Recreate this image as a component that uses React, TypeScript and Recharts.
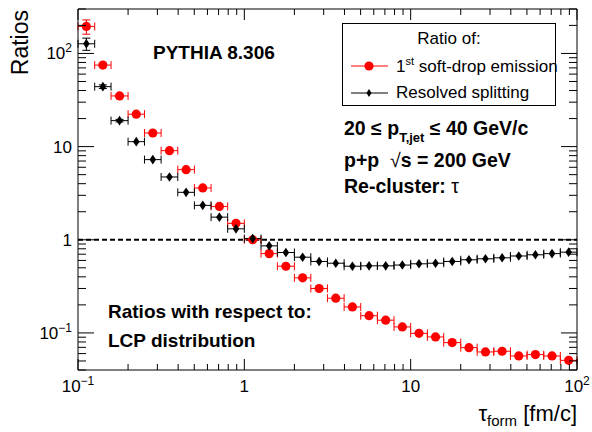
import React from 'react';
import { ScatterChart, Scatter, XAxis, YAxis, ErrorBar, ReferenceLine, Legend } from 'recharts';

// tau_form bins (fm/c), 10 per decade
const binEdges = [
  0.1, 0.126, 0.158, 0.2, 0.251, 0.316, 0.398, 0.501, 0.631, 0.794,
  1, 1.26, 1.58, 2, 2.51, 3.16, 3.98, 5.01, 6.31, 7.94,
  10, 12.6, 15.8, 20, 25.1, 31.6, 39.8, 50.1, 63.1, 79.4, 100,
];

// ratio to LCP distribution
const softDropRatio = [
  195, 75, 35, 22.3, 14, 9.05, 5.66, 3.6, 2.28, 1.5,
  1.0, 0.71, 0.52, 0.39, 0.3, 0.236, 0.19, 0.153, 0.137, 0.116,
  0.099, 0.0906, 0.0787, 0.0695, 0.0625, 0.0636, 0.0566, 0.0585, 0.0566, 0.0508,
];
const resolvedRatio = [
  127, 44, 19, 11.3, 7.25, 4.72, 3.23, 2.34, 1.75, 1.31,
  1.03, 0.86, 0.73, 0.65, 0.585, 0.56, 0.52, 0.525, 0.525, 0.535,
  0.552, 0.56, 0.585, 0.61, 0.625, 0.64, 0.67, 0.69, 0.71, 0.736,
];
// stat. errors (only visible on the first bins)
const softDropErr = [34, 3, 1, 0, 0, 0, 0, 0, 0, 0, 0, 0, 0, 0, 0, 0, 0, 0, 0, 0, 0, 0, 0, 0, 0, 0, 0, 0, 0, 0];
const resolvedErr = [19, 2, 0.6, 0, 0, 0, 0, 0, 0, 0, 0, 0, 0, 0, 0, 0, 0, 0, 0, 0, 0, 0, 0, 0, 0, 0, 0, 0, 0, 0];

const xTicks = [
  0.1, 0.2, 0.3, 0.4, 0.5, 0.6, 0.7, 0.8, 0.9,
  1, 2, 3, 4, 5, 6, 7, 8, 9,
  10, 20, 30, 40, 50, 60, 70, 80, 90, 100,
];
const yTicks = [
  0.04, 0.05, 0.06, 0.07, 0.08, 0.09,
  0.1, 0.2, 0.3, 0.4, 0.5, 0.6, 0.7, 0.8, 0.9,
  1, 2, 3, 4, 5, 6, 7, 8, 9,
  10, 20, 30, 40, 50, 60, 70, 80, 90,
  100, 200, 300,
];
const majorValues = [0.1, 1, 10, 100];
const majorLabels = ['10^−1', '1', '10', '10^2'];

const FONT = '"Liberation Sans", Arial, Helvetica, sans-serif';

const makeSeries = (vals: number[], errs: number[]) =>
  vals.map((v, i) => {
    const lo = binEdges[i];
    const hi = binEdges[i + 1];
    const c = Math.sqrt(lo * hi);
    return { x: c, y: v, ex: [c - lo, hi - c], ey: errs[i] > 0 ? errs[i] : null };
  });

const softDropData = makeSeries(softDropRatio, softDropErr);
const resolvedData = makeSeries(resolvedRatio, resolvedErr);

const PowLabel = ({ v }: { v: number }) => {
  const idx = majorValues.indexOf(v);
  const [base, exp] = majorLabels[idx].split('^');
  return (
    <>
      {base}
      {exp && <tspan dy={-7} fontSize={12}>{exp}</tspan>}
    </>
  );
};

const isMajor = (v: number) => majorValues.includes(v);

const BottomTick = ({ x, y, payload }: any) => {
  const major = isMajor(payload.value);
  return (
    <g>
      <line x1={x} x2={x} y1={y} y2={y - (major ? 11 : 6)} stroke="#000" />
      {major && (
        <text x={x} y={y + 22} textAnchor="middle" fontSize={17} fontFamily={FONT} fill="#000">
          <PowLabel v={payload.value} />
        </text>
      )}
    </g>
  );
};

const TopTick = ({ x, y, payload }: any) => {
  const major = isMajor(payload.value);
  return <line x1={x} x2={x} y1={y} y2={y + (major ? 11 : 6)} stroke="#000" />;
};

const LeftTick = ({ x, y, payload }: any) => {
  const major = isMajor(payload.value);
  return (
    <g>
      <line x1={x} x2={x + (major ? 16 : 8)} y1={y} y2={y} stroke="#000" />
      {major && (
        <text x={x - 6} y={y + 6} textAnchor="end" fontSize={17} fontFamily={FONT} fill="#000">
          <PowLabel v={payload.value} />
        </text>
      )}
    </g>
  );
};

const RightTick = ({ x, y, payload }: any) => {
  const major = isMajor(payload.value);
  return <line x1={x} x2={x - (major ? 16 : 8)} y1={y} y2={y} stroke="#000" />;
};

const RedDot = ({ cx, cy }: any) => <circle cx={cx} cy={cy} r={4.6} fill="#ff0000" />;
const BlackDiamond = ({ cx, cy }: any) => (
  <polygon points={`${cx},${cy - 4.8} ${cx + 3.3},${cy} ${cx},${cy + 4.8} ${cx - 3.3},${cy}`} fill="#000" />
);

const LegendBox = () => (
  <div
    style={{
      width: 212, height: 80, border: '1px solid #000', background: '#fff',
      fontFamily: FONT, fontSize: 17, color: '#000', paddingTop: 1, boxSizing: 'content-box',
    }}
  >
    <div style={{ height: 27, lineHeight: '27px', textAlign: 'center' }}>Ratio of:</div>
    <div style={{ height: 27, display: 'flex', alignItems: 'center', whiteSpace: 'nowrap' }}>
      <svg width={53} height={12} style={{ flexShrink: 0 }}>
        <line x1={8} x2={45} y1={6} y2={6} stroke="#ff0000" />
        <circle cx={26} cy={6} r={4.6} fill="#ff0000" />
      </svg>
      <span>1<sup style={{ fontSize: 11, verticalAlign: 7 }}>st</sup> soft-drop emission</span>
    </div>
    <div style={{ height: 27, display: 'flex', alignItems: 'center', whiteSpace: 'nowrap' }}>
      <svg width={53} height={12} style={{ flexShrink: 0 }}>
        <line x1={8} x2={45} y1={6} y2={6} stroke="#000" />
        <polygon points="26,2 28.5,6 26,10 23.5,6" fill="#000" />
      </svg>
      <span>Resolved splitting</span>
    </div>
  </div>
);

export default function App() {
  return (
    <div style={{ position: 'absolute', left: 0, top: 0, width: 592, height: 432, background: '#fff' }}>
      <ScatterChart width={592} height={432} margin={{ top: 8, right: 14, bottom: 61, left: 77 }}>
        <XAxis
          xAxisId="b" dataKey="x" type="number" scale="log" domain={[0.1, 100]} ticks={xTicks}
          interval={0} allowDataOverflow height={1} tickSize={0} tickMargin={0}
          tick={<BottomTick />} axisLine={{ stroke: '#000' }} tickLine={false}
        />
        <XAxis
          xAxisId="t" orientation="top" dataKey="x" type="number" scale="log" domain={[0.1, 100]} ticks={xTicks}
          interval={0} allowDataOverflow height={1} tickSize={0} tickMargin={0}
          tick={<TopTick />} axisLine={{ stroke: '#000' }} tickLine={false}
        />
        <YAxis
          yAxisId="l" dataKey="y" type="number" scale="log" domain={[0.04, 300]} ticks={yTicks}
          interval={0} allowDataOverflow width={1} tickSize={0} tickMargin={0}
          tick={<LeftTick />} axisLine={{ stroke: '#000' }} tickLine={false}
        />
        <YAxis
          yAxisId="r" orientation="right" dataKey="y" type="number" scale="log" domain={[0.04, 300]} ticks={yTicks}
          interval={0} allowDataOverflow width={1} tickSize={0} tickMargin={0}
          tick={<RightTick />} axisLine={{ stroke: '#000' }} tickLine={false}
        />
        <ReferenceLine xAxisId="b" yAxisId="l" y={1} stroke="#000" strokeWidth={2} strokeDasharray="5 3" />
        <Scatter
          name="1st soft-drop emission" data={softDropData} xAxisId="b" yAxisId="l"
          shape={<RedDot />} isAnimationActive={false}
        >
          <ErrorBar dataKey="ex" direction="x" width={4} stroke="#ff0000" strokeWidth={1} isAnimationActive={false} />
          <ErrorBar dataKey="ey" direction="y" width={4} stroke="#ff0000" strokeWidth={1} isAnimationActive={false} />
        </Scatter>
        <Scatter
          name="Resolved splitting" data={resolvedData} xAxisId="b" yAxisId="l"
          shape={<BlackDiamond />} isAnimationActive={false}
        >
          <ErrorBar dataKey="ex" direction="x" width={4} stroke="#000" strokeWidth={1} isAnimationActive={false} />
          <ErrorBar dataKey="ey" direction="y" width={4} stroke="#000" strokeWidth={1} isAnimationActive={false} />
        </Scatter>
        <Legend
          layout="vertical" align="center" verticalAlign="middle" content={<LegendBox />}
          wrapperStyle={{ position: 'absolute', left: 342, top: 23, width: 214, height: 82 }}
        />
      </ScatterChart>
      <svg
        width={592} height={432}
        style={{ position: 'absolute', left: 0, top: 0, pointerEvents: 'none' }}
        fontFamily={FONT}
      >
        <text transform="translate(28,10) rotate(-90)" textAnchor="end" fontSize={23}>Ratios</text>
        <text x={577} y={421} textAnchor="end" fontSize={22}>
          τ<tspan dy={5} fontSize={15}>form</tspan><tspan dy={-5}> [fm/c]</tspan>
        </text>
        <text x={153} y={59} fontSize={19} fontWeight="bold">PYTHIA 8.306</text>
        <text x={344} y={135} fontSize={19.5} fontWeight="bold">
          20 ≤ p<tspan dy={7} fontSize={13}>T,jet</tspan><tspan dy={-7}> ≤ 40 GeV/c</tspan>
        </text>
        <text x={344} y={167} fontSize={19.5} fontWeight="bold" xmlSpace="preserve">
          p+p  <tspan fontWeight="normal">√</tspan>s = 200 GeV
        </text>
        <text x={344} y={193} fontSize={19.5} fontWeight="bold">
          Re-cluster: <tspan fontWeight="normal">τ</tspan>
        </text>
        <text x={108} y={318} fontSize={19} fontWeight="bold">Ratios with respect to:</text>
        <text x={108} y={347} fontSize={19} fontWeight="bold">LCP distribution</text>
      </svg>
    </div>
  );
}
